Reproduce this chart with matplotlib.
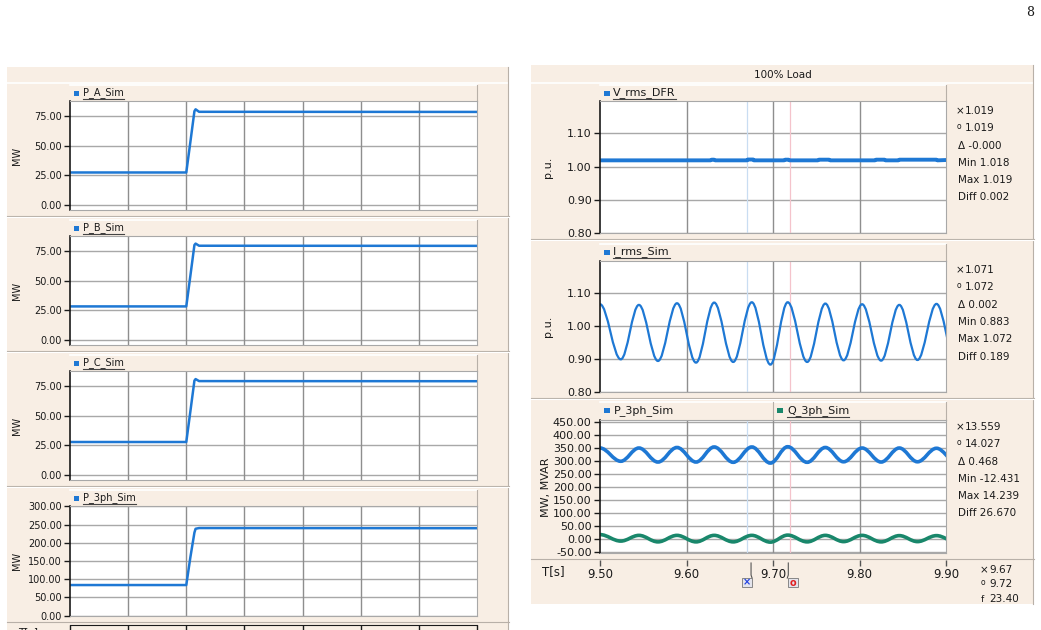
import matplotlib
matplotlib.use('Agg')
import matplotlib.pyplot as plt
from matplotlib.patches import Rectangle, PathPatch
from matplotlib.path import Path
from matplotlib.lines import Line2D

plt.rcParams['font.family'] = 'DejaVu Sans'

W, H = 1041, 630
BEIGE = '#F8EEE4'
EDGE = '#B8B0A8'
GRID = '#A8A8A8'
VGRID = '#8E8E8E'
BLUE = '#1E78D4'
GREEN = '#19876B'
TXT = '#1A1A1A'

# ---------- left panel: load step ----------
t_step = [0.0, 2.00, 2.07, 2.14, 2.16, 2.22, 7.0]
p_a = [27.4, 27.4, 53.0, 79.0, 80.6, 78.5, 78.4]
p_b = [28.3, 28.3, 54.0, 80.0, 81.2, 79.4, 79.3]
p_c = [27.8, 27.8, 53.5, 79.5, 80.8, 79.1, 79.0]
p_3ph = [84.0, 84.0, 160.0, 228.0, 238.5, 240.5, 240.0]
left_series = [p_a, p_b, p_c, p_3ph]
left_names = ['P_A_Sim', 'P_B_Sim', 'P_C_Sim', 'P_3ph_Sim']
left_yticks = [[0, 25, 50, 75]] * 3 + [[0, 50, 100, 150, 200, 250, 300]]
left_ylims = [(-4.2, 87.6)] * 3 + [(-1, 301)]
left_xgrid = [1, 2, 3, 4, 5, 6]

# ---------- right panel: 100% load, zoomed ----------
v_t = [9.500, 9.628, 9.629, 9.632, 9.633, 9.670, 9.671, 9.677, 9.678, 9.713, 9.714,
       9.718, 9.719, 9.752, 9.753, 9.765, 9.766, 9.818, 9.819, 9.829, 9.830, 9.845,
       9.846, 9.889, 9.890, 9.900]
v_rms = [1.0185, 1.0185, 1.0205, 1.0205, 1.0185, 1.0185, 1.021, 1.021, 1.0185, 1.0185,
         1.0205, 1.0205, 1.0185, 1.0185, 1.0205, 1.0205, 1.0185, 1.0185, 1.0205, 1.0205,
         1.0185, 1.0185, 1.0205, 1.0205, 1.0185, 1.0195]

# times of the peaks / troughs of the oscillation
t_ext = [9.500, 9.524, 9.545, 9.567, 9.589, 9.611, 9.632, 9.654, 9.6755, 9.697,
         9.717, 9.7395, 9.7605, 9.7816, 9.803, 9.825, 9.846, 9.867, 9.889, 9.9105]
i_rms = [1.066, 0.899, 1.064, 0.894, 1.069, 0.889, 1.071, 0.891, 1.072, 0.883,
         1.072, 0.891, 1.068, 0.896, 1.066, 0.895, 1.064, 0.897, 1.067, 0.900]
p3 = [350, 299, 350, 296, 352, 296, 354, 295, 354, 292,
      355, 295, 352, 297, 350, 296, 350, 297, 349, 300]
q3 = [17, -8, 14, -11, 14, -11, 14, -11, 14, -12,
      15, -11, 14, -10, 14, -11, 13, -10, 13, -9]

right_xticks = [9.50, 9.60, 9.70, 9.80, 9.90]
cursors = [9.67, 9.72]
freq = '23.40'

stats_v = ['1.019', '1.019', '-0.000', '1.018', '1.019', '0.002']
stats_i = ['1.071', '1.072', '0.002', '0.883', '1.072', '0.189']
stats_pq = ['13.559', '14.027', '0.468', '-12.431', '14.239', '26.670']

fig = plt.figure(figsize=(W / 100, H / 100), dpi=100, facecolor='white')


def px_axes(x0, y0, x1, y1):
    return fig.add_axes([x0 / W, 1 - y1 / H, (x1 - x0) / W, (y1 - y0) / H])


def frect(x0, y0, x1, y1, **kw):
    kw.setdefault('zorder', -2)
    fig.add_artist(Rectangle((x0 / W, 1 - y1 / H), (x1 - x0) / W, (y1 - y0) / H,
                             transform=fig.transFigure, **kw))


def fline(xs, ys, **kw):
    kw.setdefault('lw', 0.8)
    fig.add_artist(Line2D([x / W for x in xs], [1 - y / H for y in ys],
                          transform=fig.transFigure, **kw))


def ftext(x, y, s, **kw):
    kw.setdefault('color', TXT)
    kw.setdefault('va', 'center')
    return fig.text(x / W, 1 - y / H, s, **kw)


def style_plot(ax, ylim, yticks, xlim, xgrid, fs):
    ax.set_facecolor('white')
    ax.set_xlim(xlim)
    ax.set_ylim(ylim)
    ax.set_xticks([])
    ax.set_yticks(yticks)
    ax.set_yticklabels(['%.2f' % v for v in yticks], fontsize=fs, color=TXT)
    ax.tick_params(axis='y', direction='out', length=4, width=1, pad=2, color=TXT)
    for v in yticks:
        ax.axhline(v, color=GRID, lw=1.0, zorder=0)
    for x in xgrid:
        ax.axvline(x, color=VGRID, lw=1.0, zorder=0)
    for s in ['top', 'right', 'bottom']:
        ax.spines[s].set_color(GRID)
    ax.spines['left'].set_color(TXT)
    ax.spines['left'].set_linewidth(1.2)


def sine_path(ts, vs, k=0.363):
    verts = [(ts[0], vs[0])]
    codes = [Path.MOVETO]
    for t0, v0, t1, v1 in zip(ts[:-1], vs[:-1], ts[1:], vs[1:]):
        h = t1 - t0
        verts += [(t0 + k * h, v0), (t1 - k * h, v1), (t1, v1)]
        codes += [Path.CURVE4] * 3
    return Path(verts, codes)


underline = []   # (text, y) to underline after layout

# ================= LEFT PANEL =================
frect(7, 67, 509, 640, facecolor=BEIGE, edgecolor='none')
fline([7, 509], [83, 83], color='white', lw=1.2, zorder=-1)
fline([508, 508], [67, 640], color=EDGE, zorder=-1)

for i, (ys, name) in enumerate(zip(left_series, left_names)):
    top = 84 + 135 * i
    ptop, pbot = top + 17, top + 126
    if i == 3:
        ptop, pbot = 506, 616
    # legend strip
    fline([70, 477], [top + 1, top + 1], color='white', lw=1.2, zorder=-1)
    fline([477, 477], [top + 1, ptop], color=EDGE, zorder=-1)
    if i < 3:
        fline([7, 509], [pbot + 6, pbot + 6], color=EDGE, zorder=-1)
        fline([7, 509], [pbot + 7, pbot + 7], color='white', zorder=-1)
    frect(74, top + 7, 79, top + 12, facecolor=BLUE, edgecolor='none', zorder=3)
    t = ftext(83, top + 9, name, fontsize=7, ha='left')
    underline.append((t, top + 15))

    ax = px_axes(70, ptop, 477, pbot)
    style_plot(ax, left_ylims[i], left_yticks[i], (0, 7), left_xgrid, 7)
    ax.plot(t_step, ys, color=BLUE, lw=1.8, solid_joinstyle='round')
    ftext(17, (ptop + pbot) / 2, 'MW', fontsize=7, rotation=90, ha='center')

# bottom time axis of left panel (cut by page edge)
fline([7, 509], [622, 622], color=EDGE, zorder=-1)
axl = px_axes(70, 618, 477, 625)
axl.set_xlim(0, 7)
axl.set_ylim(0, 1)
axl.set_xticks(range(8))
axl.set_xticklabels([])
axl.set_yticks([])
axl.patch.set_alpha(0)
for s in ['top', 'right', 'left']:
    axl.spines[s].set_visible(False)
axl.spines['bottom'].set_color(TXT)
axl.tick_params(axis='x', direction='out', length=5, width=1, color=TXT)
ftext(18, 627, 'T[s]', fontsize=7.5, ha='left', va='top')

# ================= RIGHT PANEL =================
frect(531, 65, 1034, 604, facecolor=BEIGE, edgecolor='none')
fline([531, 1034], [83, 83], color='white', lw=1.2, zorder=-1)
fline([1033, 1033], [65, 604], color=EDGE, zorder=-1)
ftext(783, 75, '100% Load', fontsize=7.5, ha='center')

blocks = [(84, 101, 233), (243, 261, 392), (401, 420, 553)]
for k, (top, ptop, pbot) in enumerate(blocks):
    fline([600, 946], [top + 1, top + 1], color='white', lw=1.2, zorder=-1)
    fline([946, 946], [top + 1, ptop], color=EDGE, zorder=-1)
    if k < 2:
        fline([531, 1034], [pbot + 6, pbot + 6], color=EDGE, zorder=-1)
        fline([531, 1034], [pbot + 7, pbot + 7], color='white', zorder=-1)

ax1 = px_axes(600, 101, 946, 233)
ax2 = px_axes(600, 261, 946, 392)
ax3 = px_axes(600, 420, 946, 553)
pu_ticks = [0.80, 0.90, 1.00, 1.10]
style_plot(ax1, (0.80, 1.197), pu_ticks, (9.5, 9.9), right_xticks[1:-1], 8)
style_plot(ax2, (0.80, 1.197), pu_ticks, (9.5, 9.9), right_xticks[1:-1], 8)
style_plot(ax3, (-53.8, 457.7), list(range(-50, 451, 50)), (9.5, 9.9),
           right_xticks[1:-1], 8)
for ax in (ax1, ax2, ax3):
    ax.axvline(cursors[0], color='#C9DDF2', lw=0.9, zorder=0.5)
    ax.axvline(cursors[1], color='#F4C3CB', lw=0.9, zorder=0.5)

ax1.plot(v_t, v_rms, color=BLUE, lw=2.8, solid_joinstyle='round')
ax2.add_patch(PathPatch(sine_path(t_ext, i_rms), fill=False, edgecolor=BLUE,
                        lw=1.6, capstyle='round'))
ax3.add_patch(PathPatch(sine_path(t_ext, p3), fill=False, edgecolor=BLUE,
                        lw=2.6, capstyle='round'))
ax3.add_patch(PathPatch(sine_path(t_ext, q3), fill=False, edgecolor=GREEN,
                        lw=2.6, capstyle='round'))

# legend strips
frect(604, 91, 610, 96, facecolor=BLUE, edgecolor='none', zorder=3)
underline.append((ftext(613, 93, 'V_rms_DFR', fontsize=8, ha='left'), 99))
frect(604, 250, 610, 255, facecolor=BLUE, edgecolor='none', zorder=3)
underline.append((ftext(613, 252, 'I_rms_Sim', fontsize=8, ha='left'), 258))
frect(604, 408, 610, 413, facecolor=BLUE, edgecolor='none', zorder=3)
ftext(614, 411, 'P_3ph_Sim', fontsize=8, ha='left')
fline([773, 773], [402, 419], color=EDGE, zorder=-1)
frect(777, 408, 783, 413, facecolor=GREEN, edgecolor='none', zorder=3)
underline.append((ftext(787, 411, 'Q_3ph_Sim', fontsize=8, ha='left'), 417))

ftext(548, 167, 'p.u.', fontsize=8, rotation=90, ha='center')
ftext(548, 326, 'p.u.', fontsize=8, rotation=90, ha='center')
ftext(546, 487, 'MW, MVAR', fontsize=8, rotation=90, ha='center')

# cursor statistics
for stats, y0 in [(stats_v, 111), (stats_i, 270), (stats_pq, 427)]:
    dy = 17.3
    ftext(956, y0, '×', fontsize=7.5, ha='left')
    ftext(965, y0, stats[0], fontsize=7.5, ha='left')
    ftext(957, y0 + dy - 1.5, 'o', fontsize=5.5, ha='left')
    ftext(965, y0 + dy, stats[1], fontsize=7.5, ha='left')
    ftext(958, y0 + 2 * dy, 'Δ ' + stats[2], fontsize=7.5, ha='left')
    ftext(958, y0 + 3 * dy, 'Min ' + stats[3], fontsize=7.5, ha='left')
    ftext(958, y0 + 4 * dy, 'Max ' + stats[4], fontsize=7.5, ha='left')
    ftext(958, y0 + 5 * dy, 'Diff ' + stats[5], fontsize=7.5, ha='left')

# time axis of right panel
fline([531, 1034], [559, 559], color=EDGE, zorder=-1)
axr = px_axes(600, 552, 946, 560)
axr.set_xlim(9.5, 9.9)
axr.set_ylim(0, 1)
axr.set_xticks(right_xticks)
axr.set_xticklabels(['%.2f' % v for v in right_xticks], fontsize=8.5, color=TXT)
axr.set_yticks([])
axr.patch.set_alpha(0)
for s in axr.spines.values():
    s.set_visible(False)
axr.tick_params(axis='x', direction='out', length=4, width=1, pad=2, color='#555555')
ftext(542, 572, 'T[s]', fontsize=8.5, ha='left')

# cursor flags below the time axis
for c, sym, col, side in [(cursors[0], '×', '#2040E0', -1), (cursors[1], 'o', '#E02020', 1)]:
    xc = 600 + (c - 9.5) / 0.4 * 346
    xl = xc + (4 if side < 0 else -2)
    fline([xl, xl, xl - side * 1], [563, 575, 578], color='#555555', lw=0.8)
    bx0 = xc - 5 if side < 0 else xc - 2
    frect(bx0, 578, bx0 + 10, 587, facecolor='#E4E4EC', edgecolor='#777777',
          lw=0.6, zorder=3)
    ftext(bx0 + 5, 582.5, sym, fontsize=7, ha='center', color=col, fontweight='bold')

ftext(980, 570, '×', fontsize=7.5, ha='left')
ftext(989, 570, '%.2f' % cursors[0], fontsize=7.5, ha='left')
ftext(981, 582.5, 'o', fontsize=5.5, ha='left')
ftext(989, 584, '%.2f' % cursors[1], fontsize=7.5, ha='left')
ftext(981, 599, 'f', fontsize=6.5, ha='left')
ftext(989, 599, freq, fontsize=7.5, ha='left')

# page number
ftext(1030, 12, '8', fontsize=9, ha='center', family='DejaVu Serif')

# underline the selected channel names
fig.canvas.draw()
r = fig.canvas.get_renderer()
for t, y in underline:
    bb = t.get_window_extent(r)
    fline([bb.x0, bb.x1], [y, y], color='#444444', lw=0.8)

fig.savefig('out.png', dpi=100, facecolor='white')
